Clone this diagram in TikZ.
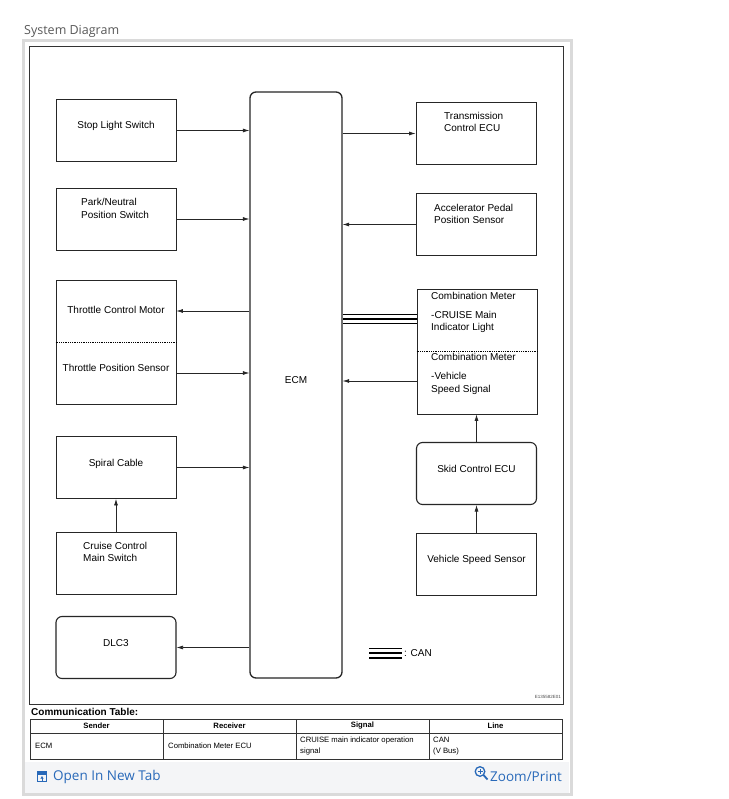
\documentclass[tikz,border=0pt]{standalone}
\usepackage{fontspec}
\setmainfont{Liberation Sans}
\newfontfamily\uifont{Open Sans}
\usepackage{xcolor}
\usetikzlibrary{arrows.meta,positioning,calc}

\definecolor{linkblue}{RGB}{40,105,185}
\definecolor{panelgray}{RGB}{218,218,218}
\definecolor{stripgray}{RGB}{244,245,247}

\begin{document}
\begin{tikzpicture}[
    x=1pt, y=-1pt,
    font=\fontsize{10}{12.5}\selectfont,
    box/.style={rectangle, draw=black!85, line width=0.8pt, minimum width=120pt, minimum height=62pt, inner sep=0pt},
    rbox/.style={box, rounded corners=6pt, line width=1.1pt},
    txt/.style={inner sep=0pt, align=center},
    ltxt/.style={inner sep=0pt, align=left, anchor=west},
    arrow/.style={draw=black!85, line width=0.7pt, -{Latex[length=6.5pt,width=4pt]}},
    sep/.style={densely dotted, line width=0.8pt},
    can/.style={line width=1.4pt},
    cell/.style={inner sep=0pt, align=left, anchor=west, font=\fontsize{7.7}{11}\selectfont}
]
    \useasboundingbox (0,0) rectangle (728,799);

    % page frame
    \node[anchor=west, inner sep=0pt, text=black!65, font=\uifont\fontsize{12.5}{14}\selectfont] (title) at (24,31) {System Diagram};
    \draw[panelgray, line width=3pt, fill=white] (23,41) rectangle (571,794);
    \fill[stripgray] (25,762) rectangle (569,792.5);
    \draw[black!80, line width=0.8pt] (29,46) rectangle (563,704);

    % ECM
    \node[rbox, minimum width=92pt, minimum height=586pt, line width=1.3pt] (ecm) at (296,385) {};
    \node[txt] (ecmtxt) at (296,380) {ECM};

    % left column
    \node[box] (stop) at (116,130.5) {};
    \node[txt] (stoptxt) at (116,126) {Stop Light Switch};
    \node[box] (park) at (116,219) {};
    \node[ltxt] (parktxt) at (81,208.5) {Park/Neutral\\Position Switch};
    \node[box, minimum height=124pt] (thr) at (116,342) {};
    \node[txt] (tcmtxt) at (116,310) {Throttle Control Motor};
    \node[txt] (tpstxt) at (116,368) {Throttle Position Sensor};
    \draw[sep] (thr.west) -- (thr.east);
    \node[box] (spiral) at (116,467.5) {};
    \node[txt] (spiraltxt) at (116,464) {Spiral Cable};
    \node[box] (cruise) at (116,563) {};
    \node[ltxt] (cruisetxt) at (83,552) {Cruise Control\\Main Switch};
    \node[rbox] (dlc) at (116,647.5) {};
    \node[txt] (dlctxt) at (116,643) {DLC3};

    % right column
    \node[box] (trans) at (476,133.5) {};
    \node[ltxt] (transtxt) at (444,122) {Transmission\\Control ECU};
    \node[box] (accel) at (476,224.5) {};
    \node[ltxt] (acceltxt) at (434,214) {Accelerator Pedal\\Position Sensor};
    \node[box, minimum height=125pt] (comb) at (477,351.5) {};
    \node[ltxt] (combtxta) at (431,296) {Combination Meter};
    \node[ltxt] (combtxtb) at (431,322) {-CRUISE Main\\Indicator Light};
    \node[ltxt] (combtxtc) at (431,357) {Combination Meter};
    \node[ltxt] (combtxtd) at (431,383.5) {-Vehicle\\Speed Signal};
    \draw[sep] (comb.west) -- (comb.east);
    \node[rbox] (skid) at (476.5,473.5) {};
    \node[txt] (skidtxt) at (476.5,469) {Skid Control ECU};
    \node[box] (vss) at (476.5,564) {};
    \node[txt] (vsstxt) at (476.5,560) {Vehicle Speed Sensor};

    % connections
    \draw[arrow] (stop.east) -- (stop.east -| ecm.west);
    \draw[arrow] (park.east) -- (park.east -| ecm.west);
    \draw[arrow] ([yshift=31pt]thr.east -| ecm.west) -- ([yshift=31pt]thr.east);
    \draw[arrow] ([yshift=-31pt]thr.east) -- ([yshift=-31pt]thr.east -| ecm.west);
    \draw[arrow] (spiral.east) -- (spiral.east -| ecm.west);
    \draw[arrow] (cruise.north) -- (spiral.south);
    \draw[arrow] (dlc.east -| ecm.west) -- (dlc.east);
    \draw[arrow] (trans.west -| ecm.east) -- (trans.west);
    \draw[arrow] (accel.west) -- (accel.west -| ecm.east);
    \draw[arrow] ([yshift=-29.5pt]comb.west) -- ([yshift=-29.5pt]comb.west -| ecm.east);
    \draw[arrow] (skid.north) -- (skid.north |- comb.south);
    \draw[arrow] (vss.north) -- (skid.south);
    \foreach \d in {28,32.5,37}
        \draw[can] ([yshift=\d pt]comb.west) -- ([yshift=\d pt]comb.west -| ecm.east);

    % legend
    \coordinate (canleg) at (369,653);
    \node[ltxt, inner xsep=2pt] (cantxt) at (402,653) {: CAN};
    \foreach \d in {-4.8,0,4.8}
        \draw[can] ([yshift=\d pt]canleg) -- ([yshift=\d pt]canleg -| cantxt.west);
    \node[inner sep=0pt, anchor=east, text=black!70, font=\fontsize{4.5}{5}\selectfont] (code) at (561,697) {E135582E01};

    % communication table
    \node[anchor=west, inner sep=0pt, font=\bfseries\fontsize{10}{12}\selectfont] (tabtitle) at (31,712) {Communication Table:};
    \draw[black!80, line width=0.6pt] (30,719) rectangle (562,759);
    \draw[black!80, line width=0.6pt] (30,733) -- (562,733);
    \foreach \cx in {163,296,429}
        \draw[black!80, line width=0.6pt] (\cx,719) -- (\cx,759);
    \foreach \cx/\head in {96.5/Sender,229.5/Receiver,362.5/Signal,495.5/Line}
        \node[inner sep=0pt, font=\bfseries\fontsize{7.7}{9}\selectfont] at (\cx,726) {\head};
    \node[cell] (c1) at (35,746) {ECM};
    \node[cell] (c2) at (168,746) {Combination Meter ECU};
    \node[cell] (c3) at (300,746) {CRUISE main indicator operation\\signal};
    \node[cell] (c4) at (433,746) {CAN\\(V Bus)};

    % links
    \draw[linkblue, line width=1.1pt] (37.5,772) rectangle (46.5,781.5);
    \fill[linkblue] (37.5,772) rectangle (46.5,774.5);
    \draw[linkblue, line width=1pt, -{Latex[length=2.5pt,width=3.5pt]}] (42,781) -- (42,776);
    \node[anchor=west, inner sep=0pt, text=linkblue, font=\uifont\fontsize{13.5}{15}\selectfont] (opentab) at (53,777) {Open In New Tab};
    \draw[linkblue, line width=1.3pt] (480,771.5) circle (4.8pt);
    \draw[linkblue, line width=1.8pt] (483.5,775) -- (487.5,779.5);
    \draw[linkblue, line width=1pt] (477.5,771.5) -- (482.5,771.5) (480,769) -- (480,774);
    \node[anchor=west, inner sep=0pt, text=linkblue, font=\uifont\fontsize{13.5}{15}\selectfont] (zoomprint) at (490,777) {Zoom/Print};
\end{tikzpicture}
\end{document}
